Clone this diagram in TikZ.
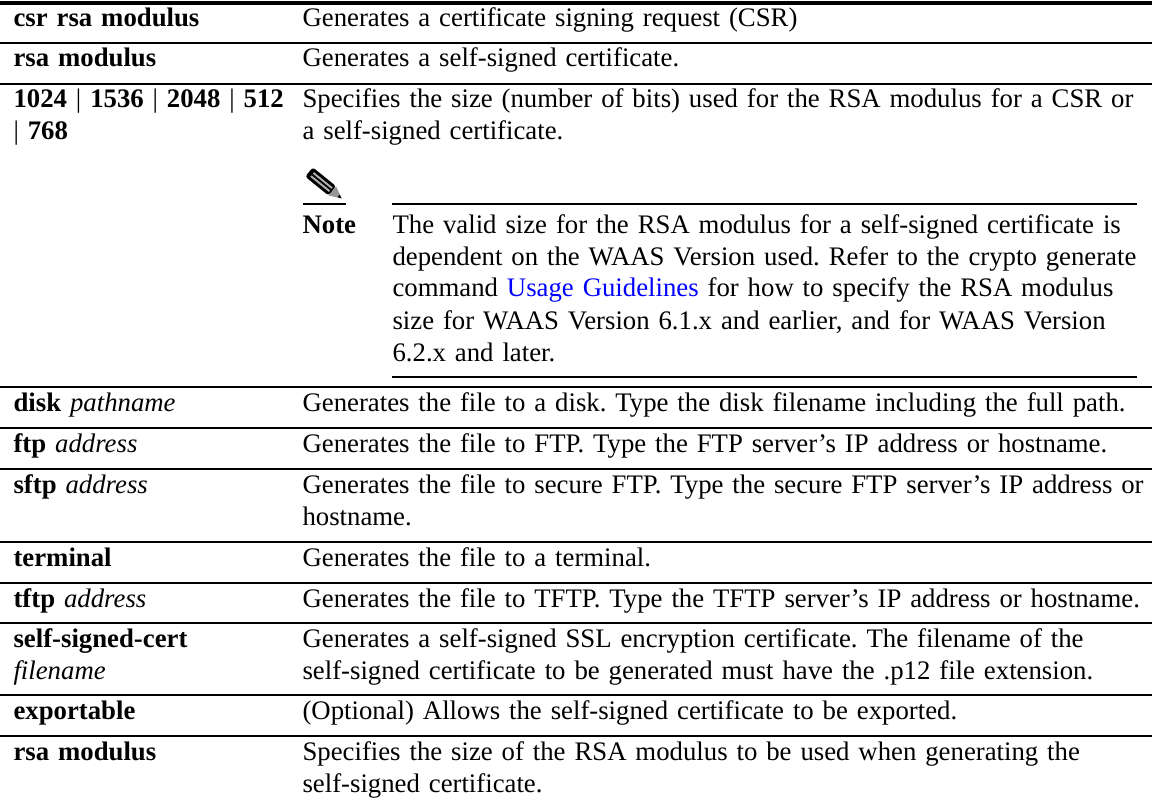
\documentclass[tikz,border=0pt]{standalone}
\usepackage{fontspec}
\setmainfont{Liberation Serif}
\usepackage{tikz}
\usepackage{xcolor}
\frenchspacing
\definecolor{linkcolor}{RGB}{0,0,255}
\definecolor{penciltip}{RGB}{150,150,150}
\definecolor{pencilgray}{RGB}{175,175,175}
\tikzset{
  cell/.style={anchor=base west, inner sep=0pt, align=left, font=\fontsize{9.7pt}{11.6pt}\selectfont},
  rule/.style={line width=0.4pt}
}

\begin{document}
\begin{tikzpicture}[x=0.3625pt,y=-0.3625pt,every node/.style={cell}]
\useasboundingbox (0,0) rectangle (1152,803);
\draw[line width=1.1pt] (0,3) -- (1152,3);
\foreach \y in {43,84,387,428,469,542,583,623,695,736}
  \draw[rule] (0,\y) -- (1152,\y);
\foreach \y/\k/\d [count=\i] in {
  27/{\textbf{csr rsa modulus}}/{Generates a certificate signing request (CSR)},
  67/{\textbf{rsa modulus}}/{Generates a self-signed certificate.},
  108/{\textbf{1024} | \textbf{1536} | \textbf{2048} | \textbf{512}\\| \textbf{768}}/{Specifies the size (number of bits) used for the RSA modulus for a CSR or\\a self-signed certificate.},
  411/{\textbf{disk} \textit{pathname}}/{Generates the file to a disk. Type the disk filename including the full path.},
  452/{\textbf{ftp} \textit{address}}/{Generates the file to FTP. Type the FTP server’s IP address or hostname.},
  493/{\textbf{sftp} \textit{address}}/{Generates the file to secure FTP. Type the secure FTP server’s IP address or\\hostname.},
  566/{\textbf{terminal}}/{Generates the file to a terminal.},
  607/{\textbf{tftp} \textit{address}}/{Generates the file to TFTP. Type the TFTP server’s IP address or hostname.},
  647/{\textbf{self-signed-cert}\\\textit{filename}}/{Generates a self-signed SSL encryption certificate. The filename of the\\self-signed certificate to be generated must have the .p12 file extension.},
  719/{\textbf{exportable}}/{(Optional) Allows the self-signed certificate to be exported.},
  760/{\textbf{rsa modulus}}/{Specifies the size of the RSA modulus to be used when generating the\\self-signed certificate.}
}{
  \node[text width=120pt] (key\i) at (13,\y) {\k};
  \node[text width=340pt] (desc\i) at (302,\y) {\d};
}
\begin{scope}[shift={(309,172)},rotate=-39]
  \fill[black,rounded corners=1pt] (0,-6) rectangle (30,6);
  \draw[pencilgray,line width=0.7pt] (4,-2) -- (28,-2) (4,2) -- (28,2);
  \fill[penciltip] (30,-6) -- (42,0) -- (30,6) -- cycle;
  \fill[black] (38,-1.6) -- (42,0) -- (38,1.6) -- cycle;
\end{scope}
\draw[line width=0.7pt] (303,204) -- (346,204);
\draw[rule] (392,204) -- (1137,204);
\draw[rule] (392,377) -- (1137,377);
\node (notelabel) at (302,233) {\textbf{Note}};
\node[text width=310pt] (notetext) at (392,233) {The valid size for the RSA modulus for a self-signed certificate is\\dependent on the WAAS Version used. Refer to the crypto generate\\command \textcolor{linkcolor}{Usage Guidelines} for how to specify the RSA modulus\\size for WAAS Version 6.1.x and earlier, and for WAAS Version\\6.2.x and later.};
\end{tikzpicture}
\end{document}
